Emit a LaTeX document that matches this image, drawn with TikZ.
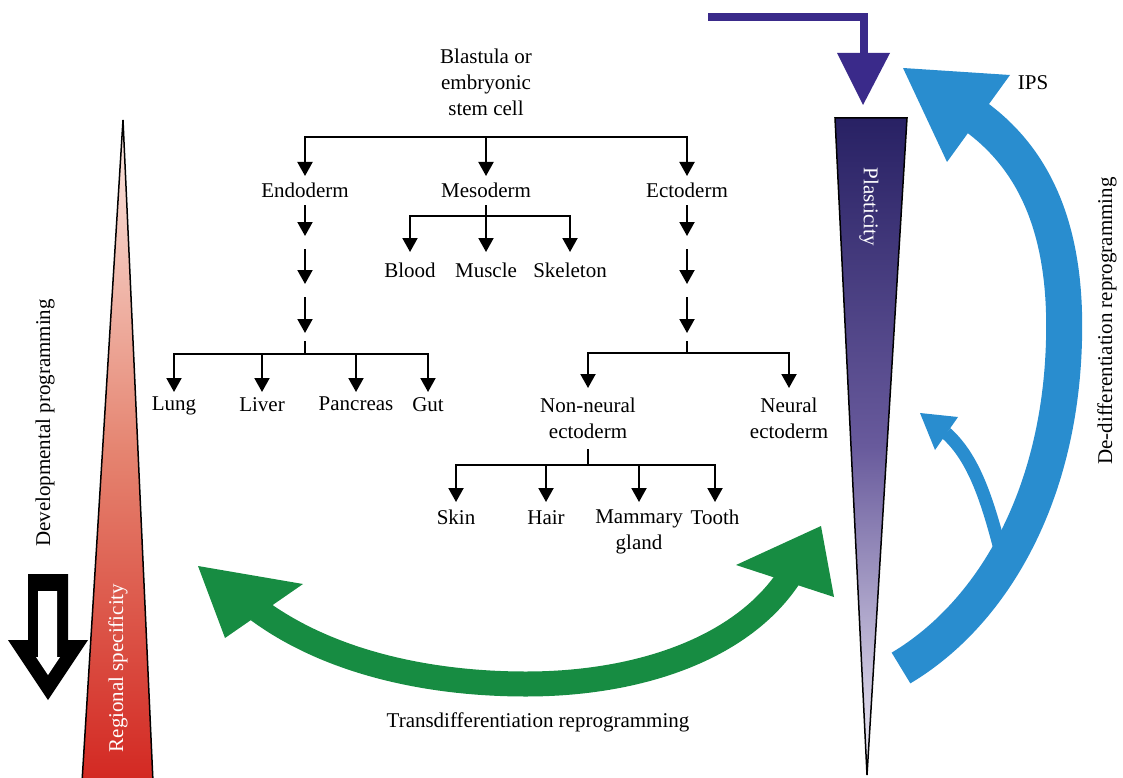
\documentclass[tikz,border=0pt]{standalone}
\usepackage{fontspec}
\setmainfont{Liberation Serif}
\usetikzlibrary{arrows.meta}
\definecolor{skyb}{RGB}{41,141,207}
\definecolor{grn}{RGB}{23,140,66}
\definecolor{indg}{RGB}{58,42,138}
\definecolor{plA}{RGB}{40,33,100}
\definecolor{plB}{RGB}{104,90,156}
\definecolor{plC}{RGB}{242,240,248}
\definecolor{rdA}{RGB}{251,234,228}
\definecolor{rdB}{RGB}{229,132,112}
\definecolor{rdC}{RGB}{211,40,34}
\begin{document}
\begin{tikzpicture}[x=1pt,y=-1pt,
  lab/.style={font=\fontsize{21}{26}\selectfont, inner xsep=1pt, inner ysep=#1, align=center, anchor=north},
  lab/.default=6pt,
  txt/.style={font=\fontsize{21}{26}\selectfont, inner sep=0pt, align=center},
  ln/.style={line width=2pt},
  arr/.style={line width=2pt, -{Triangle[length=14pt,width=15pt]}},
  ]
\useasboundingbox (0,0) rectangle (1123,778);

% ---- gradient triangles ----
\shade[top color=rdA, bottom color=rdC, middle color=rdB] (123,120) -- (153,782) -- (82,782) -- cycle;
\draw[line width=1.5pt] (82,782) -- (123,120) -- (153,782);
\shade[top color=plA, bottom color=plC, middle color=plB] (835,118) -- (907,118) -- (867,775) -- cycle;
\draw[line width=1.5pt] (835,118) -- (907,118) -- (867,775) -- cycle;

% ---- indigo arrow at top ----
\draw[indg, line width=8pt] (708,17) -| (864,56);
\fill[indg] (837,53) -- (890,53) -- (863,105) -- cycle;

% ---- black hollow arrow ----
\fill (28,574) -- (68,574) -- (68,640) -- (88,640) -- (48,700) -- (8,640) -- (28,640) -- cycle;
\fill[white] (38,591) -- (57,591) -- (57,657) -- (60,657) -- (48,675) -- (36,657) -- (38,657) -- cycle;

% ---- green double arrow ----
\draw[grn, line width=25pt] (258,610) .. controls (330,663) and (430,684) .. (526,684)
      .. controls (640,684) and (742,648) .. (789,577);
\fill[grn] (198,566) -- (303,584) -- (225,638) -- cycle;
\fill[grn] (821,526) -- (736,565) -- (834,597) -- cycle;

% ---- blue arrows ----
\draw[skyb, line width=13pt] (1004,565) .. controls (988,500) and (974,458) .. (946,433);
\fill[skyb] (920,413) -- (958,417) -- (935,450) -- cycle;
\draw[skyb, line width=36pt] (901,668) .. controls (990,615) and (1060,500) .. (1064,340)
      .. controls (1067,230) and (1035,158) .. (972,114);
\fill[skyb] (903,68) -- (1010,75) -- (947,162) -- cycle;

% ---- tree nodes ----
\node[txt, anchor=north] (blast) at (486,49) {Blastula or\\embryonic\\stem cell};
\node[lab=7pt] (endo) at (305,176) {Endoderm};
\node[lab=7pt] (meso) at (486,176) {Mesoderm};
\node[lab=7pt] (ecto) at (687,176) {Ectoderm};
\node[lab=11pt] (blood) at (410,252) {Blood};
\node[lab=11pt] (muscle) at (486,252) {Muscle};
\node[lab=11pt] (skel) at (570,252) {Skeleton};
\node[lab=5pt] (lung) at (174,392) {Lung};
\node[lab=5pt] (liver) at (262,392) {Liver};
\node[lab=5pt] (panc) at (356,392) {Pancreas};
\node[lab=5pt] (gut) at (428,392) {Gut};
\node[lab=10pt] (nonneural) at (588,388) {Non-neural\\ectoderm};
\node[lab=10pt] (neural) at (789,388) {Neural\\ectoderm};
\node[lab=8pt] (skin) at (456,502) {Skin};
\node[lab=8pt] (hair) at (546,502) {Hair};
\node[lab=8pt] (mammary) at (639,502) {Mammary\\gland};
\node[lab=8pt] (tooth) at (715,502) {Tooth};

% ---- tree connectors ----
\coordinate (j0) at (486,137);
\draw[arr] (j0) -| (endo.north);
\draw[arr] (j0) -| (ecto.north);
\draw[arr] (j0) -- (meso.north);

\coordinate (jm) at (486,216);
\draw[ln] (meso.south) -- (jm);
\draw[arr] (jm) -| (blood.north);
\draw[arr] (jm) -- (muscle.north);
\draw[arr] (jm) -| (skel.north);

\coordinate (e1) at (305,236);
\coordinate (e2s) at (305,249);
\coordinate (e2) at (305,284);
\coordinate (e3s) at (305,297);
\coordinate (e3) at (305,333);
\coordinate (e4s) at (305,341);
\coordinate (je) at (305,354);
\draw[arr] (endo.south) -- (e1);
\draw[arr] (e2s) -- (e2);
\draw[arr] (e3s) -- (e3);
\draw[ln] (e4s) -- (je);
\draw[arr] (je) -| (lung.north);
\draw[arr] (je) -| (liver.north);
\draw[arr] (je) -| (panc.north);
\draw[arr] (je) -| (gut.north);

\coordinate (c1) at (687,236);
\coordinate (c2s) at (687,249);
\coordinate (c2) at (687,284);
\coordinate (c3s) at (687,297);
\coordinate (c3) at (687,333);
\coordinate (c4s) at (687,341);
\coordinate (jc) at (687,353);
\draw[arr] (ecto.south) -- (c1);
\draw[arr] (c2s) -- (c2);
\draw[arr] (c3s) -- (c3);
\draw[ln] (c4s) -- (jc);
\draw[arr] (jc) -| (nonneural.north);
\draw[arr] (jc) -| (neural.north);

\coordinate (jn) at (588,465);
\draw[ln] (nonneural.south) -- (jn);
\draw[arr] (jn) -| (skin.north);
\draw[arr] (jn) -| (hair.north);
\draw[arr] (jn) -| (mammary.north);
\draw[arr] (jn) -| (tooth.north);

% ---- other labels ----
\node[txt, rotate=90] (devprog) at (45,423) {Developmental programming};
\node[txt, rotate=90, text=white] (regspec) at (118,668) {Regional specificity};
\node[txt, rotate=-90, text=white] (plast) at (869,207) {Plasticity};
\node[txt, rotate=90] (dediff) at (1107,321) {De-differentiation reprogramming};
\node[txt] (trans) at (538,722) {Transdifferentiation reprogramming};
\node[txt] (ips) at (1033,83) {IPS};
\end{tikzpicture}
\end{document}
